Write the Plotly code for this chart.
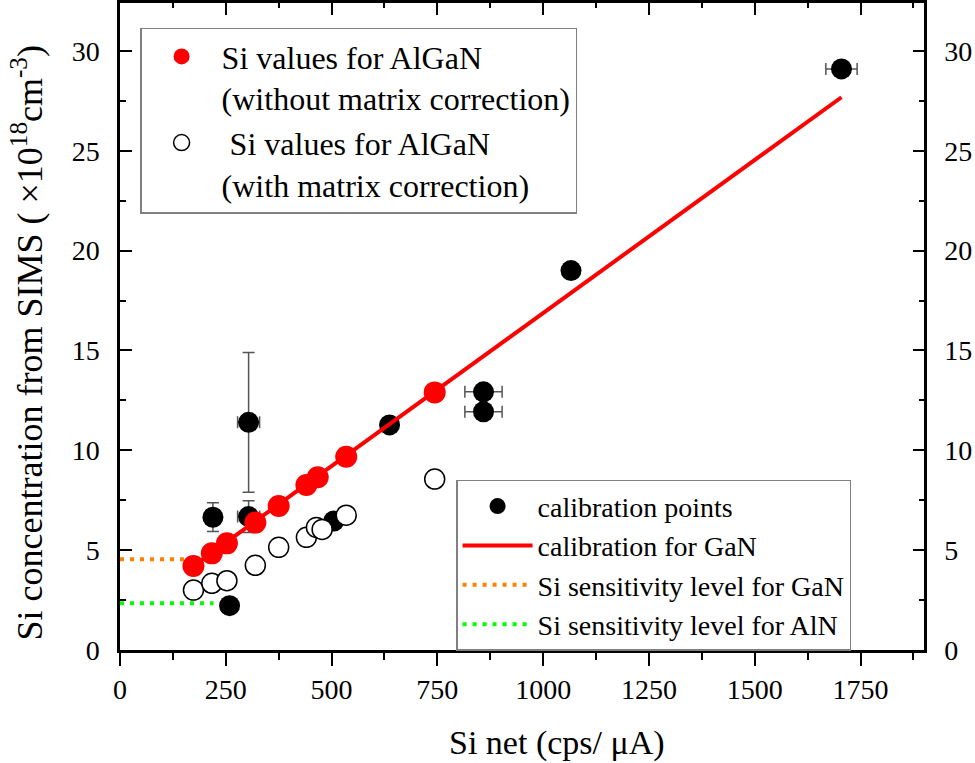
import plotly.graph_objects as go

# Si values for AlGaN, no matrix correction (red, on the GaN calibration)
gan_x = [173.6, 217.0, 252.7, 319.8, 375.0, 440.5, 467.3, 534.6, 743.7]
gan_y = [4.21, 4.84, 5.34, 6.38, 7.21, 8.26, 8.65, 9.68, 12.90]

# Si values for AlGaN, with matrix correction (open circles)
corr_x = [173.6, 217.0, 252.7, 319.8, 375.0, 440.5, 464.2, 477.7, 534.6, 743.7]
corr_y = [3.00, 3.34, 3.47, 4.24, 5.14, 5.64, 6.14, 6.04, 6.75, 8.56]

# calibration points with error bars
cal_x = [219.6, 258.9, 303.9, 303.9, 505.2, 637.0, 859.0, 859.0, 1065.8, 1705.0]
cal_y = [6.65, 2.22, 11.40, 6.68, 6.46, 11.27, 12.93, 11.93, 19.00, 29.10]
cal_xerr = [0, 0, 26, 26, 0, 8, 44, 44, 0, 37]
cal_yerr = [0.72, 0, 3.5, 0.8, 0, 0, 0, 0, 0, 0]

# calibration line for GaN (end points)
fit_x = [173.6, 1705.0]
fit_y = [4.21, 27.68]

# sensitivity levels
gan_level_x = [0, 173.6]
gan_level_y = [4.54, 4.54]
aln_level_x = [0, 221.0]
aln_level_y = [2.34, 2.34]

X_RANGE = [0, 1900]
Y_RANGE = [0, 32.4]
FONT = '"Liberation Serif", "Times New Roman", Tinos, serif'

fig = go.Figure()

fig.add_trace(go.Scatter(
    x=aln_level_x, y=aln_level_y, mode='lines',
    line=dict(color='#00ff00', width=4, dash='4px,6px'),
    name='Si sensitivity level for AlN', legend='legend2', legendrank=4,
))
fig.add_trace(go.Scatter(
    x=gan_level_x, y=gan_level_y, mode='lines',
    line=dict(color='#ff8000', width=4, dash='4px,6px'),
    name='Si sensitivity level for GaN', legend='legend2', legendrank=3,
))
fig.add_trace(go.Scatter(
    x=cal_x, y=cal_y, mode='markers',
    marker=dict(color='black', size=21, line=dict(width=0)),
    error_x=dict(type='data', array=cal_xerr, color='#555555', thickness=1.5, width=6),
    error_y=dict(type='data', array=cal_yerr, color='#555555', thickness=1.5, width=6),
    name='calibration points', legend='legend2', legendrank=1,
))
fig.add_trace(go.Scatter(
    x=fit_x, y=fit_y, mode='lines',
    line=dict(color='#ff0000', width=4),
    name='calibration for GaN', legend='legend2', legendrank=2,
))
fig.add_trace(go.Scatter(
    x=corr_x, y=corr_y, mode='markers',
    marker=dict(color='white', size=20, line=dict(color='black', width=1.5)),
    name=' Si values for AlGaN<br>(with matrix correction)', legend='legend',
    legendrank=2,
))
fig.add_trace(go.Scatter(
    x=gan_x, y=gan_y, mode='markers',
    marker=dict(color='#ff0000', size=22, line=dict(width=0)),
    name='Si values for AlGaN<br>(without matrix correction)', legend='legend',
    legendrank=1,
))
# empty trace so the mirrored top / right axes are drawn
fig.add_trace(go.Scatter(x=[], y=[], xaxis='x2', yaxis='y2', showlegend=False,
                         hoverinfo='skip'))

axis_common = dict(
    showline=True, linecolor='black', linewidth=2.5, automargin=False,
    showgrid=False, zeroline=False, tickcolor='black', tickwidth=2,
    tickfont=dict(family=FONT, size=28, color='black'),
)

fig.update_layout(
    width=975, height=763,
    paper_bgcolor='white', plot_bgcolor='white',
    margin=dict(l=120, r=51, t=3, b=113),
    font=dict(family=FONT, color='black'),
    xaxis=dict(
        range=X_RANGE, tickmode='linear', tick0=0, dtick=250,
        ticks='outside', ticklen=13,
        minor=dict(dtick=125, ticks='outside', ticklen=7, tickwidth=2, tickcolor='black'),
        **axis_common,
    ),
    xaxis2=dict(
        range=X_RANGE, overlaying='x', side='top', anchor='y',
        tickmode='linear', tick0=0, dtick=250,
        ticks='inside', ticklen=12, showticklabels=False,
        minor=dict(dtick=125, ticks='inside', ticklen=5, tickwidth=2, tickcolor='black'),
        **axis_common,
    ),
    yaxis=dict(
        range=Y_RANGE, tickmode='linear', tick0=0, dtick=5,
        ticks='inside', ticklen=12, ticklabelstandoff=12,
        minor=dict(dtick=2.5, ticks='inside', ticklen=6, tickwidth=2, tickcolor='black'),
        **axis_common,
    ),
    yaxis2=dict(
        range=Y_RANGE, overlaying='y', side='right', anchor='x',
        tickmode='linear', tick0=0, dtick=5,
        ticks='inside', ticklen=11, ticklabelstandoff=12,
        minor=dict(dtick=2.5, ticks='inside', ticklen=5, tickwidth=2, tickcolor='black'),
        **axis_common,
    ),
    legend=dict(
        x=0.025, y=0.962, xanchor='left', yanchor='top',
        bgcolor='white', bordercolor='#808080', borderwidth=1.5,
        font=dict(family=FONT, size=32, color='black'),
        itemwidth=70, valign='top', traceorder='normal',
    ),
    legend2=dict(
        x=0.418, y=0.263, xanchor='left', yanchor='top',
        bgcolor='white', bordercolor='#808080', borderwidth=1.5,
        font=dict(family=FONT, size=28, color='black'),
        itemwidth=70, traceorder='normal',
    ),
    annotations=[
        dict(
            text='Si net (cps/ \u03bcA)', xref='paper', yref='paper',
            x=0.5435, y=-0.1437, xanchor='center', yanchor='middle',
            showarrow=False, font=dict(family=FONT, size=34, color='black'),
        ),
        dict(
            text='Si concentration from SIMS ( \u00d710<sup>18</sup>cm<sup>-3</sup>)',
            xref='paper', yref='paper', x=-0.1155, y=0.474,
            xanchor='center', yanchor='middle', textangle=-90,
            showarrow=False, font=dict(family=FONT, size=36, color='black'),
        ),
    ],
    showlegend=True,
)

# drop the default page margin so the figure sits at the window's top-left corner
fig.write_html("out.html", config={'displayModeBar': False},
               post_script="document.body.style.margin='0';")
